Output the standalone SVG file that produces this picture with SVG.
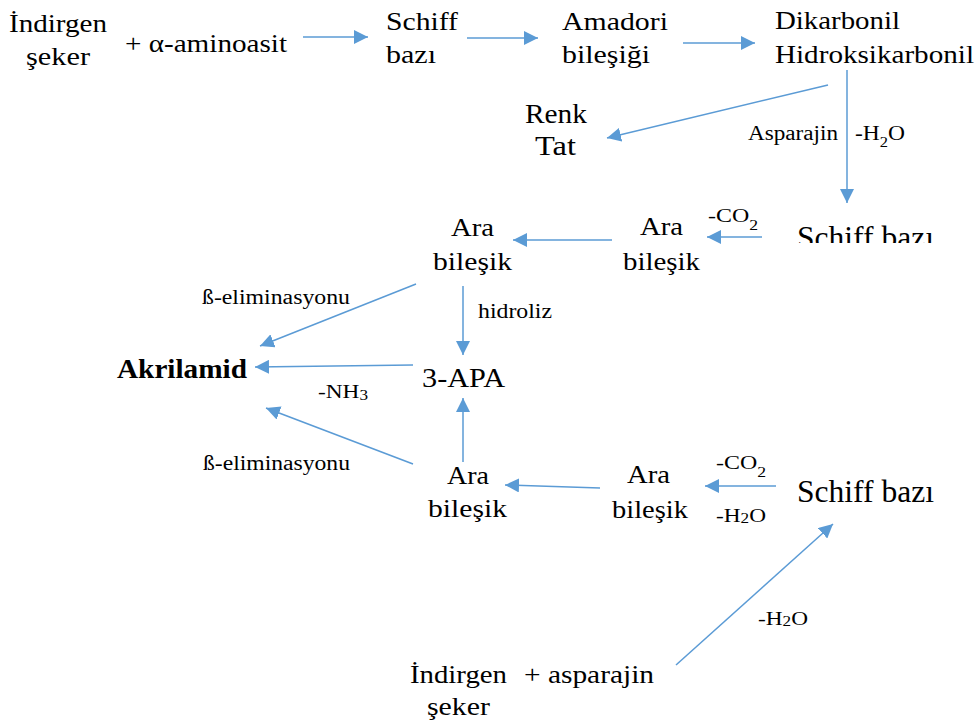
<svg xmlns="http://www.w3.org/2000/svg" width="978" height="724" viewBox="0 0 978 724" font-family="'Liberation Serif', 'Times New Roman', serif">
<style>
text{font-family:'Liberation Serif','Times New Roman',serif;fill:#000;}
.n{font-size:25px;}
.s{font-size:20px;}
.c{stroke:#5B9BD5;stroke-width:1.5;fill:none;marker-end:url(#ah);}
</style>
<defs>
<marker id="ah" markerUnits="userSpaceOnUse" markerWidth="14" markerHeight="14" refX="14" refY="7" orient="auto">
<path d="M0,0 L14,7 L0,14 z" fill="#5B9BD5"/>
</marker>
<clipPath id="clipSchiff"><rect x="780" y="200" width="198" height="43"/></clipPath>
</defs>
<rect width="978" height="724" fill="#fff"/>

<g id="connectors">
<line class="c" x1="303" y1="37" x2="368" y2="37"/>
<line class="c" x1="467" y1="38" x2="538" y2="38"/>
<line class="c" x1="683" y1="43" x2="755" y2="43"/>
<line class="c" x1="828" y1="85" x2="607" y2="138"/>
<line class="c" x1="847" y1="70" x2="847" y2="203"/>
<line class="c" x1="762" y1="237" x2="707" y2="237"/>
<line class="c" x1="612" y1="240" x2="513" y2="240"/>
<line class="c" x1="416" y1="284" x2="260" y2="346"/>
<line class="c" x1="463" y1="286" x2="463" y2="355"/>
<line class="c" x1="413" y1="365" x2="255" y2="367"/>
<line class="c" x1="463" y1="462" x2="463" y2="398"/>
<line class="c" x1="413" y1="464" x2="266" y2="408"/>
<line class="c" x1="600" y1="488" x2="505" y2="485"/>
<line class="c" x1="776" y1="486" x2="705" y2="486"/>
<line class="c" x1="676" y1="665" x2="833" y2="524"/>
</g>

<g id="indirgen-seker-1">
<text class="n" x="9" y="32" textLength="98" lengthAdjust="spacingAndGlyphs">İndirgen</text>
<text class="n" x="26" y="65" textLength="64" lengthAdjust="spacingAndGlyphs">şeker</text>
</g>
<g id="aminoasit">
<text class="n" x="125" y="52" textLength="162" lengthAdjust="spacingAndGlyphs">+ α-aminoasit</text>
</g>
<g id="schiff-1">
<text class="n" x="386" y="30" textLength="72" lengthAdjust="spacingAndGlyphs">Schiff</text>
<text class="n" x="386" y="63" textLength="50" lengthAdjust="spacingAndGlyphs">bazı</text>
</g>
<g id="amadori">
<text class="n" x="562" y="30" textLength="106" lengthAdjust="spacingAndGlyphs">Amadori</text>
<text class="n" x="562" y="63" textLength="88" lengthAdjust="spacingAndGlyphs">bileşiği</text>
</g>
<g id="dikarbonil">
<text class="n" x="775" y="29" textLength="125" lengthAdjust="spacingAndGlyphs">Dikarbonil</text>
<text class="n" x="775" y="63" textLength="199" lengthAdjust="spacingAndGlyphs">Hidroksikarbonil</text>
</g>
<g id="renk-tat">
<text x="525" y="123" font-size="27" textLength="62" lengthAdjust="spacingAndGlyphs">Renk</text>
<text x="535" y="155" font-size="27" textLength="41" lengthAdjust="spacingAndGlyphs">Tat</text>
</g>
<g id="label-asparajin">
<text class="s" x="748" y="140" textLength="90" lengthAdjust="spacingAndGlyphs">Asparajin</text>
<text class="s" x="855" y="140" textLength="50" lengthAdjust="spacingAndGlyphs">-H<tspan font-size="14" dy="7">2</tspan><tspan dy="-7">O</tspan></text>
</g>
<g id="schiff-2">
<text x="797" y="248" font-size="31" textLength="137" lengthAdjust="spacingAndGlyphs" clip-path="url(#clipSchiff)">Schiff bazı</text>
</g>
<g id="label-co2-1">
<text x="708" y="222" font-size="19" textLength="50" lengthAdjust="spacingAndGlyphs">-CO<tspan font-size="14" dy="8">2</tspan></text>
</g>
<g id="ara-1">
<text class="n" x="640" y="235" textLength="43" lengthAdjust="spacingAndGlyphs">Ara</text>
<text class="n" x="623" y="270" textLength="77" lengthAdjust="spacingAndGlyphs">bileşik</text>
</g>
<g id="ara-2">
<text class="n" x="451" y="236" textLength="43" lengthAdjust="spacingAndGlyphs">Ara</text>
<text class="n" x="433" y="270" textLength="79" lengthAdjust="spacingAndGlyphs">bileşik</text>
</g>
<g id="label-beta-1">
<text class="s" x="202" y="304" textLength="148" lengthAdjust="spacingAndGlyphs">ß-eliminasyonu</text>
</g>
<g id="label-hidroliz">
<text class="s" x="478" y="318" textLength="74" lengthAdjust="spacingAndGlyphs">hidroliz</text>
</g>
<g id="akrilamid">
<text x="117" y="378" font-size="27" font-weight="bold" textLength="130" lengthAdjust="spacingAndGlyphs">Akrilamid</text>
</g>
<g id="apa">
<text x="422" y="387" font-size="28" textLength="83" lengthAdjust="spacingAndGlyphs">3-APA</text>
</g>
<g id="label-nh3">
<text x="318" y="398" font-size="19" textLength="50" lengthAdjust="spacingAndGlyphs">-NH<tspan font-size="14" dy="2">3</tspan></text>
</g>
<g id="label-beta-2">
<text class="s" x="203" y="470" textLength="147" lengthAdjust="spacingAndGlyphs">ß-eliminasyonu</text>
</g>
<g id="ara-3">
<text class="n" x="447" y="484" textLength="42" lengthAdjust="spacingAndGlyphs">Ara</text>
<text class="n" x="428" y="517" textLength="79" lengthAdjust="spacingAndGlyphs">bileşik</text>
</g>
<g id="ara-4">
<text class="n" x="627" y="483" textLength="43" lengthAdjust="spacingAndGlyphs">Ara</text>
<text class="n" x="612" y="518" textLength="76" lengthAdjust="spacingAndGlyphs">bileşik</text>
</g>
<g id="label-co2-h2o-2">
<text x="716" y="469" font-size="19" textLength="50" lengthAdjust="spacingAndGlyphs">-CO<tspan font-size="14" dy="8">2</tspan></text>
<text x="716" y="522" font-size="19" textLength="50" lengthAdjust="spacingAndGlyphs">-H<tspan font-size="14" dy="1">2</tspan><tspan dy="-1">O</tspan></text>
</g>
<g id="schiff-3">
<text x="797" y="502" font-size="31" textLength="137" lengthAdjust="spacingAndGlyphs">Schiff bazı</text>
</g>
<g id="label-h2o-3">
<text x="758" y="625" font-size="19" textLength="50" lengthAdjust="spacingAndGlyphs">-H<tspan font-size="14" dy="1">2</tspan><tspan dy="-1">O</tspan></text>
</g>
<g id="indirgen-seker-2">
<text class="n" x="410" y="683" textLength="97" lengthAdjust="spacingAndGlyphs">İndirgen</text>
<text class="n" x="427" y="715" textLength="63" lengthAdjust="spacingAndGlyphs">şeker</text>
</g>
<g id="asparajin">
<text class="n" x="524" y="683" textLength="130" lengthAdjust="spacingAndGlyphs">+ asparajin</text>
</g>
</svg>
